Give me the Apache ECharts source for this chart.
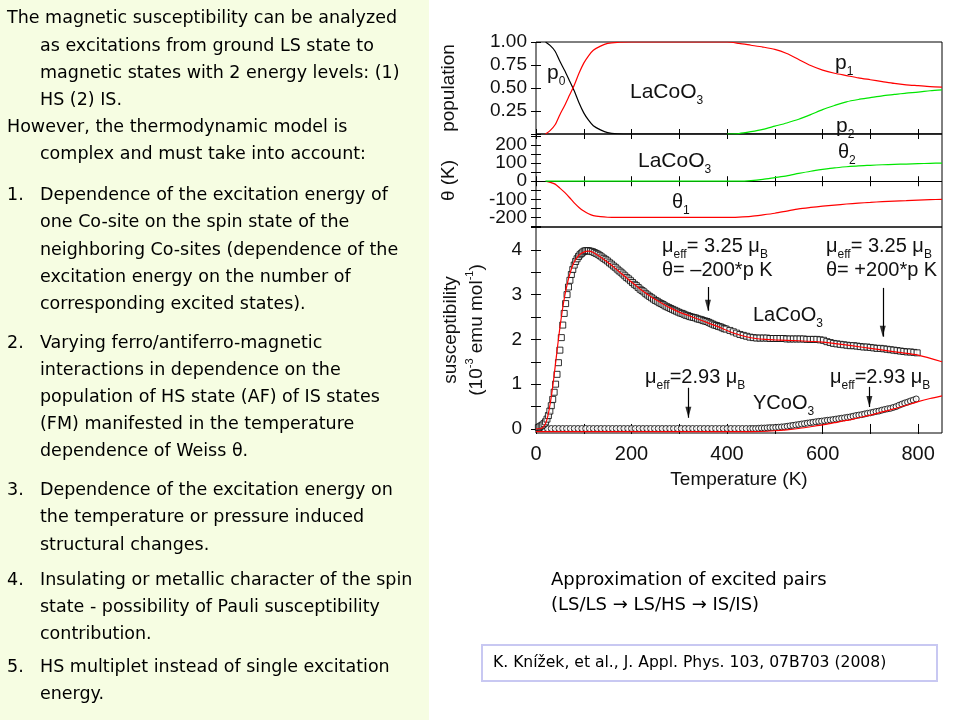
<!DOCTYPE html>
<html><head><meta charset="utf-8">
<script src="https://cdn.jsdelivr.net/npm/echarts@6/dist/echarts.min.js"></script>
<style>html,body{margin:0;padding:0;background:#fff}#c{width:960px;height:720px}</style>
</head><body><div id="c"></div>
<script>
// ---------- data ----------
const xTickVals = [0,100,200,300,400,500,600,700,800];
const xLabelVals = [0,200,400,600,800];
const popTickVals = [0,0.25,0.5,0.75,1];
const popLabelVals = [0.25,0.5,0.75,1];
const thetaTickVals = [-250,-200,-150,-100,-50,0,50,100,150,200,250];
const thetaLabelValsA = [-200,0,200];
const thetaLabelValsB = [-100,100];
const chiTickVals = [0,0.5,1,1.5,2,2.5,3,3.5,4,4.5];
const chiLabelVals = [0,1,2,3,4];

// populations (LaCoO3)
const T_pop = [20,30,40,50,60,70,80,90,100,110,120,135,150,170,200,300,400,425,450,475,500,525,550,575,600,625,650,675,700,725,750,775,800,825,850];
const p0 = [1.0,0.96,0.90,0.79,0.69,0.58,0.47,0.34,0.23,0.15,0.09,0.045,0.015,0.003,0,0,0,0,0,0,0,0,0,0,0,0,0,0,0,0,0,0,0,0,0];
const p1 = [0,0.04,0.10,0.21,0.31,0.42,0.53,0.66,0.77,0.85,0.91,0.955,0.985,0.997,1,1,1,0.985,0.965,0.945,0.92,0.875,0.81,0.745,0.695,0.66,0.635,0.61,0.59,0.57,0.55,0.535,0.525,0.515,0.51];
const p2 = [null,null,null,null,null,null,null,null,null,null,null,null,null,null,null,null,0,0.005,0.025,0.05,0.085,0.12,0.16,0.21,0.265,0.31,0.35,0.375,0.395,0.415,0.43,0.445,0.455,0.47,0.48];

// Weiss theta (LaCoO3)
const theta1 = [0,-6,-16,-38,-62,-90,-120,-145,-165,-180,-190,-196,-199,-200,-200,-200,-200,-198,-194,-186,-177,-165,-153,-145,-138,-132,-126,-121,-117,-113,-110,-107,-104,-102,-100];
const theta2 = [0,0,0,0,0,0,0,0,0,0,0,0,0,0,0,0,0,0,3,10,20,30,43,55,65,74,80,85,88,91,93,95,97,99,100];

// susceptibility LaCoO3, measured
const la_T = [5,8,11,14,17,20,23,26,29,32,35,38,41,44,47,50,53,56,59,62,65,68,71,74,77,80,83,86,89,92,95,98,101,104,107,110,
114,118,122,126,130,134,138,142,146,150,154,158,162,166,170,174,178,182,186,190,194,198,202,206,210,214,218,222,226,230,
234,238,242,246,250,254,258,262,266,270,274,278,282,286,290,294,298,302,306,310,314,318,322,326,330,334,338,342,346,350,
354,358,362,366,370,374,378,382,386,390,394,398,
406,413,420,427,434,441,448,455,462,469,476,483,490,497,504,511,518,525,532,539,546,553,560,567,574,581,588,595,602,609,
616,623,630,637,644,651,658,665,672,679,686,693,700,707,714,721,728,735,742,749,756,763,770,777,784,791,798];
const la_chi = [0.03,0.05,0.07,0.09,0.12,0.16,0.22,0.30,0.40,0.52,0.66,0.82,1.00,1.22,1.48,1.76,2.04,2.32,2.58,2.80,3.00,3.17,3.32,3.45,3.56,3.66,3.74,3.80,3.85,3.89,3.92,3.95,3.97,3.98,3.98,3.98,
3.97,3.96,3.94,3.92,3.90,3.87,3.84,3.81,3.78,3.75,3.71,3.68,3.64,3.61,3.57,3.53,3.50,3.46,3.42,3.38,3.35,3.31,3.27,3.23,3.20,3.16,3.12,3.09,3.06,3.02,
2.99,2.96,2.93,2.90,2.87,2.85,2.82,2.80,2.78,2.75,2.73,2.71,2.69,2.67,2.65,2.63,2.61,2.59,2.58,2.56,2.54,2.53,2.51,2.50,2.49,2.48,2.46,2.45,2.44,2.42,
2.41,2.40,2.38,2.36,2.34,2.32,2.31,2.29,2.28,2.26,2.24,2.23,
2.20,2.17,2.14,2.11,2.09,2.07,2.05,2.04,2.03,2.03,2.03,2.03,2.02,2.02,2.02,2.02,2.02,2.01,2.01,2.01,2.01,2.01,2.01,2.00,2.00,2.00,2.00,1.99,1.98,1.95,
1.93,1.91,1.90,1.89,1.88,1.87,1.86,1.86,1.85,1.84,1.83,1.83,1.82,1.81,1.80,1.80,1.79,1.78,1.77,1.76,1.75,1.74,1.73,1.72,1.72,1.71,1.70];
// LaCoO3 model
const la_fit_T = [0,10,15,20,25,30,35,40,45,50,55,60,65,70,75,80,90,100,110,120,140,160,180,200,220,240,260,280,300,320,340,360,380,400,420,440,460,480,500,550,600,640,680,720,760,800,850];
const la_fit_chi = [0,0.01,0.04,0.12,0.30,0.58,0.95,1.38,1.83,2.26,2.64,2.96,3.22,3.43,3.60,3.73,3.88,3.95,3.97,3.94,3.80,3.64,3.46,3.28,3.11,2.96,2.83,2.71,2.61,2.53,2.45,2.37,2.29,2.20,2.12,2.06,2.02,2.00,1.99,1.97,1.94,1.89,1.83,1.77,1.71,1.65,1.50];

// susceptibility YCoO3, measured
const y_T = [8,16,24,32,40,48,56,64,72,80,88,96,104,112,120,128,136,144,152,160,168,176,184,192,200,208,216,224,232,240,248,256,264,272,280,288,296,304,312,320,328,336,344,352,360,368,376,384,392,400,408,416,424,432,440,448,
454,460,466,472,478,484,490,496,502,508,514,520,526,532,538,544,550,556,562,568,574,580,586,592,598,604,610,616,622,628,634,640,646,652,658,664,670,676,682,688,694,700,706,712,718,724,730,736,742,748,754,760,766,772,778,784,790,796];
const y_chi = [0.01,0.01,0.01,0.01,0.01,0.01,0.01,0.01,0.01,0.01,0.01,0.01,0.01,0.01,0.01,0.01,0.01,0.01,0.01,0.01,0.01,0.01,0.01,0.01,0.01,0.01,0.01,0.01,0.01,0.01,0.01,0.01,0.01,0.01,0.01,0.01,0.01,0.01,0.01,0.01,0.01,0.01,0.01,0.01,0.01,0.01,0.01,0.01,0.01,0.01,0.01,0.01,0.01,0.01,0.01,0.01,
0.01,0.01,0.015,0.02,0.02,0.025,0.03,0.03,0.035,0.04,0.045,0.05,0.06,0.07,0.08,0.09,0.10,0.11,0.12,0.13,0.14,0.15,0.16,0.17,0.175,0.185,0.195,0.20,0.21,0.22,0.23,0.24,0.25,0.26,0.27,0.285,0.30,0.31,0.32,0.335,0.35,0.36,0.375,0.39,0.40,0.42,0.435,0.45,0.46,0.48,0.50,0.53,0.555,0.58,0.60,0.625,0.645,0.67];
// YCoO3 model
const y_fit_T = [0,100,200,300,400,450,500,525,550,575,600,625,650,675,700,725,750,775,800,825,850];
const y_fit_chi = [-0.06,-0.06,-0.06,-0.06,-0.06,-0.06,-0.04,-0.02,0.01,0.05,0.09,0.14,0.19,0.25,0.31,0.38,0.45,0.53,0.61,0.68,0.74];

// arrows: [T, chi from, chi to]
const arrows = [[360,3.17,2.64],[726,3.15,2.06],[319,0.92,0.25],[698,0.94,0.49]];

// ---------- build ----------
const zip = (xs, ys) => xs.map((x, i) => [x, ys[i]]).filter(d => d[1] !== null);
const AX = 'Liberation Sans';
const INK = '#111';

const grids = [
  {left:536, top:42, width:406, height:92},
  {left:536, top:134, width:406, height:93},
  {left:536, top:227, width:406, height:206}
].map(g => Object.assign(g, {show:true, borderColor:'#000', borderWidth:1, backgroundColor:'transparent'}));

const tick = (vals) => ({show:true, inside:true, length:5, customValues:vals, lineStyle:{color:'#000', width:1}});

const xAxes = [];
for (let i = 0; i < 3; i++) {
  xAxes.push({gridIndex:i, type:'value', min:0, max:850, position:'bottom',
    axisLine:{show:false}, splitLine:{show:false}, axisTick:tick(xTickVals),
    axisLabel:{show:i===2, customValues:xLabelVals, margin:11, fontFamily:AX, fontSize:20, color:INK, hideOverlap:false},
    name: i===2 ? 'Temperature (K)' : '', nameLocation:'middle', nameGap:37,
    nameTextStyle:{fontFamily:AX, fontSize:19, color:INK}});
  xAxes.push({gridIndex:i, type:'value', min:0, max:850, position:'top',
    axisLine:{show:false}, splitLine:{show:false}, axisTick:tick(xTickVals), axisLabel:{show:false}});
}
const yDefs = [
  {min:0, max:1, ticks:popTickVals, labels:popLabelVals, fmt:v=>v.toFixed(2), name:'population', gap:74, margin:9},
  {min:-253, max:261, ticks:thetaTickVals, labels:thetaLabelValsA, fmt:v=>String(v), name:'θ (K)', gap:74, margin:9},
  {min:-0.09, max:4.51, ticks:chiTickVals, labels:chiLabelVals, fmt:v=>String(v), name:'susceptibility\n(10{sup|-3} emu mol{sup|-1})', gap:46, margin:14}
];
const labelStyle = {fontFamily:AX, fontSize:19, color:INK, hideOverlap:false};
const yAxes = [];
yDefs.forEach((d, i) => {
  yAxes.push({gridIndex:i, type:'value', min:d.min, max:d.max, position:'left',
    axisLine:{show:false}, splitLine:{show:false}, axisTick:tick(d.ticks),
    axisLabel:Object.assign({customValues:d.labels, formatter:d.fmt, margin:d.margin}, labelStyle),
    name:d.name, nameLocation:'middle', nameRotate:90, nameGap:d.gap,
    nameTextStyle:{fontFamily:AX, fontSize:19, color:INK, lineHeight:26,
      rich:{sup:{fontFamily:AX, fontSize:11, color:INK, verticalAlign:'top', lineHeight:10}}}});
  yAxes.push({gridIndex:i, type:'value', min:d.min, max:d.max, position:'right',
    axisLine:{show:false}, splitLine:{show:false}, axisTick:tick(d.ticks), axisLabel:{show:false}});
});
// second label set for the theta panel (labels every 100 K)
yAxes.push({gridIndex:1, type:'value', min:-253, max:261, position:'left', offset:0,
  axisLine:{show:false}, splitLine:{show:false}, axisTick:{show:false},
  axisLabel:Object.assign({customValues:thetaLabelValsB, formatter:v=>String(v), margin:9}, labelStyle)});

const lineS = (name, data, color, xi, yi, z) => ({name, type:'line', data, xAxisIndex:xi, yAxisIndex:yi,
  showSymbol:false, symbol:'none', smooth:0.25, lineStyle:{color, width:1.2}, z: z || 3, animation:false});

const series = [
  lineS('p0', zip(T_pop, p0), '#000', 0, 0, 3),
  lineS('p1', zip(T_pop, p1), '#ff0000', 0, 0, 4),
  lineS('p2', zip(T_pop, p2), '#00e600', 0, 0, 5),
  Object.assign(lineS('θ1', zip(T_pop, theta1), '#ff0000', 2, 2, 3), {
    markLine:{silent:true, symbol:['none','none'], label:{show:false}, lineStyle:{color:'#000', width:1.2, type:'solid'},
      data:[{yAxis:0}], animation:false}}),
  lineS('θ2', zip(T_pop, theta2), '#00e600', 2, 2, 5),
  {name:'YCoO3', type:'scatter', data:zip(y_T, y_chi), xAxisIndex:4, yAxisIndex:4, symbol:'circle', symbolSize:6,
    itemStyle:{color:'#fff', borderColor:'#000', borderWidth:1}, z:3, animation:false},
  {name:'LaCoO3', type:'scatter', data:zip(la_T, la_chi), xAxisIndex:4, yAxisIndex:4, symbol:'rect', symbolSize:6,
    itemStyle:{color:'#fff', borderColor:'#000', borderWidth:1}, z:3, animation:false,
    markLine:{silent:true, symbol:['none','none'], label:{show:false}, lineStyle:{color:'#000', width:1.2, type:'solid'},
      data: arrows.map(a => [{coord:[a[0], a[1]]}, {coord:[a[0], a[2]]}]), animation:false}},
  lineS('LaCoO3 fit', zip(la_fit_T, la_fit_chi), '#ff0000', 4, 4, 6),
  lineS('YCoO3 fit', zip(y_fit_T, y_fit_chi), '#ff0000', 4, 4, 6),
  {name:'arrowheads', type:'scatter', data:arrows.map(a => [a[0], a[2]]), xAxisIndex:4, yAxisIndex:4,
    symbol:'triangle', symbolRotate:180, symbolSize:[6,11], symbolOffset:[0,'-50%'],
    itemStyle:{color:'#000'}, z:7, animation:false}
];

// ---------- texts ----------
const sub = {s:{fontFamily:AX, fontSize:12, fill:INK, verticalAlign:'bottom', lineHeight:11}};
const ann = (text, x, y, size) => ({type:'text', x, y, silent:true, z:50,
  style:{text, fontFamily:AX, fontSize:size || 20, fill:INK, verticalAlign:'middle', lineHeight:30, rich:sub}});

const LF = '"DejaVu Sans"';
const leftLines = [
  ['The magnetic susceptibility can be analyzed', 7, 18],
  ['as excitations from ground LS state to', 40, 46],
  ['magnetic states with 2 energy levels: (1)', 40, 73],
  ['HS (2) IS.', 40, 100],
  ['However, the thermodynamic model is', 7, 127],
  ['complex and must take into account:', 40, 154],
  ['1.', 7, 195], ['Dependence of the excitation energy of', 40, 195],
  ['one Co-site on the spin state of the', 40, 222],
  ['neighboring Co-sites (dependence of the', 40, 250],
  ['excitation energy on the number of', 40, 277],
  ['corresponding excited states).', 40, 304],
  ['2.', 7, 343], ['Varying ferro/antiferro-magnetic', 40, 343],
  ['interactions in dependence on the', 40, 370],
  ['population of HS state (AF) of IS states', 40, 397],
  ['(FM) manifested in the temperature', 40, 424],
  ['dependence of Weiss θ.', 40, 451],
  ['3.', 7, 490], ['Dependence of the excitation energy on', 40, 490],
  ['the temperature or pressure induced', 40, 517],
  ['structural changes.', 40, 545],
  ['4.', 7, 580], ['Insulating or metallic character of the spin', 40, 580],
  ['state - possibility of Pauli susceptibility', 40, 607],
  ['contribution.', 40, 634],
  ['5.', 7, 667], ['HS multiplet instead of single excitation', 40, 667],
  ['energy.', 40, 694]
];
const graphic = [
  {type:'rect', shape:{x:0, y:0, width:429, height:720}, style:{fill:'#f6fde2'}, z:-10, silent:true},
  ...leftLines.map(l => ({type:'text', x:l[1], y:l[2], silent:true,
    style:{text:l[0], font:'17.5px ' + LF, fill:'#000', verticalAlign:'middle'}})),
  {type:'text', x:551, y:580, silent:true, style:{text:'Approximation of excited pairs', font:'18px ' + LF, fill:'#000', verticalAlign:'middle'}},
  {type:'text', x:551, y:605, silent:true, style:{text:'(LS/LS → LS/HS → IS/IS)', font:'18px ' + LF, fill:'#000', verticalAlign:'middle'}},
  {type:'rect', shape:{x:482, y:645, width:455, height:36}, style:{fill:'#fff', stroke:'#c8c8f2', lineWidth:2}, silent:true},
  {type:'text', x:493, y:663, silent:true, style:{text:'K. Knížek, et al., J. Appl. Phys. 103, 07B703 (2008)', font:'15.6px ' + LF, fill:'#000', verticalAlign:'middle'}},
  // panel annotations
  ann('p{s|0}', 547, 73, 21),
  ann('LaCoO{s|3}', 630, 92, 21),
  ann('p{s|1}', 835, 63, 21),
  ann('p{s|2}', 836, 126, 21),
  ann('LaCoO{s|3}', 638, 161, 21),
  ann('θ{s|2}', 838, 152, 20),
  ann('θ{s|1}', 672, 202, 20),
  ann('μ{s|eff}= 3.25 μ{s|B}', 662, 246, 20),
  ann('θ= –200*p K', 662, 270, 20),
  ann('μ{s|eff}= 3.25 μ{s|B}', 826, 246, 20),
  ann('θ= +200*p K', 826, 270, 20),
  ann('LaCoO{s|3}', 753, 315, 20),
  ann('μ{s|eff}=2.93 μ{s|B}', 645, 377, 20),
  ann('μ{s|eff}=2.93 μ{s|B}', 830, 377, 20),
  ann('YCoO{s|3}', 753, 403, 20)
];

const chart = echarts.init(document.getElementById('c'), null, {renderer:'canvas', width:960, height:720});
chart.setOption({
  animation:false,
  backgroundColor:'#fff',
  grid:grids, xAxis:xAxes, yAxis:yAxes, series, graphic
});
</script></body></html>
